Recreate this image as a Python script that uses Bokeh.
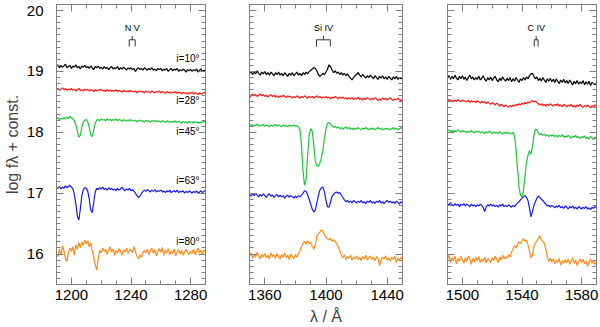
import numpy as np
from bokeh.plotting import figure
from bokeh.layouts import row
from bokeh.models import (Range1d, LinearAxis, FixedTicker, SingleIntervalTicker,
                          CustomLabelingPolicy)
from bokeh.core.properties import value
from bokeh.embed import file_html
from bokeh.resources import INLINE

# ---------------- data ----------------
# wavelength grids (1 Angstrom sampling) for the three windows
wave_nv = np.arange(1190, 1291)
wave_si = np.arange(1350, 1451)
wave_c = np.arange(1490, 1591)

inclinations = ["i=10°", "i=28°", "i=45°", "i=63°", "i=80°"]
incl_label_y = [19.21, 18.52, 18.02, 17.21, 16.21]

ions = ["N V", "Si IV", "C IV"]
doublets = [[1238.8, 1242.8], [1393.8, 1402.8], [1548.2, 1550.8]]

x_windows = [[1190, 1290], [1350, 1450], [1490, 1590]]
x_major_ticks = [[1200, 1240, 1280], [1360, 1400, 1440], [1500, 1540, 1580]]
y_window = [15.5, 20.1]

# N V window
nv_i10 = [19.08, 19.11, 19.06, 19.10, 19.07, 19.09, 19.12, 19.06, 19.08, 19.10,
          19.05, 19.09, 19.07, 19.11, 19.06, 19.08, 19.04, 19.09, 19.07, 19.10,
          19.06, 19.08, 19.05, 19.09, 19.06, 19.03, 19.08, 19.06, 19.09, 19.05,
          19.07, 19.04, 19.08, 19.05, 19.07, 19.03, 19.06, 19.08, 19.04, 19.06,
          19.05, 19.08, 19.03, 19.06, 19.04, 19.07, 19.05, 19.02, 19.06, 19.04,
          19.06, 19.03, 19.05, 19.00, 19.04, 19.06, 19.03, 19.05, 19.02, 19.06,
          19.04, 19.02, 19.05, 19.03, 19.06, 19.02, 19.04, 19.01, 19.05, 19.03,
          19.05, 19.01, 19.04, 19.02, 19.05, 19.00, 19.03, 19.05, 19.01, 19.04,
          19.02, 19.05, 19.00, 19.03, 19.01, 19.04, 19.02, 18.99, 19.03, 19.01,
          19.04, 19.00, 19.03, 19.01, 19.04, 18.99, 19.02, 19.04, 19.00, 19.02, 19.01]
nv_i28 = [18.70, 18.72, 18.69, 18.71, 18.73, 18.70, 18.72, 18.69, 18.71, 18.70,
          18.72, 18.69, 18.71, 18.68, 18.70, 18.72, 18.69, 18.70, 18.68, 18.71,
          18.69, 18.71, 18.68, 18.70, 18.69, 18.67, 18.70, 18.68, 18.70, 18.69,
          18.71, 18.68, 18.69, 18.67, 18.70, 18.68, 18.69, 18.67, 18.69, 18.68,
          18.70, 18.67, 18.69, 18.68, 18.66, 18.69, 18.67, 18.68, 18.66, 18.69,
          18.67, 18.68, 18.66, 18.68, 18.65, 18.67, 18.68, 18.66, 18.67, 18.65,
          18.68, 18.66, 18.67, 18.65, 18.68, 18.66, 18.65, 18.67, 18.66, 18.68,
          18.65, 18.67, 18.66, 18.64, 18.67, 18.65, 18.66, 18.64, 18.66, 18.65,
          18.67, 18.64, 18.66, 18.65, 18.63, 18.66, 18.64, 18.65, 18.63, 18.65,
          18.64, 18.66, 18.63, 18.65, 18.64, 18.62, 18.65, 18.63, 18.64, 18.66, 18.64]
nv_i45 = [18.22, 18.24, 18.21, 18.23, 18.22, 18.24, 18.22, 18.25, 18.23, 18.26,
          18.24, 18.22, 18.19, 18.12, 18.02, 17.92, 17.95, 18.08, 18.17, 18.20,
          18.21, 18.17, 18.08, 17.96, 17.93, 18.04, 18.15, 18.20, 18.21, 18.19,
          18.22, 18.20, 18.21, 18.19, 18.22, 18.20, 18.21, 18.19, 18.21, 18.20,
          18.22, 18.19, 18.21, 18.20, 18.18, 18.21, 18.19, 18.20, 18.18, 18.21,
          18.19, 18.20, 18.18, 18.20, 18.17, 18.19, 18.20, 18.18, 18.19, 18.17,
          18.20, 18.18, 18.19, 18.17, 18.19, 18.18, 18.20, 18.17, 18.19, 18.18,
          18.17, 18.19, 18.18, 18.16, 18.19, 18.17, 18.18, 18.16, 18.18, 18.17,
          18.19, 18.16, 18.18, 18.17, 18.15, 18.18, 18.16, 18.17, 18.15, 18.18,
          18.16, 18.17, 18.15, 18.18, 18.16, 18.17, 18.15, 18.17, 18.16, 18.18, 18.17]
nv_i63 = [17.10, 17.08, 17.11, 17.07, 17.10, 17.08, 17.12, 17.09, 17.11, 17.13,
          17.10, 17.07, 16.98, 16.82, 16.62, 16.56, 16.74, 16.96, 17.06, 17.09,
          17.08, 17.03, 16.90, 16.72, 16.68, 16.85, 17.02, 17.08, 17.06, 17.09,
          17.07, 17.10, 17.06, 17.08, 17.05, 17.09, 17.06, 17.08, 17.05, 17.07,
          17.04, 17.08, 17.05, 17.07, 17.10, 17.06, 17.04, 17.07, 17.05, 17.08,
          17.04, 17.06, 17.03, 17.00, 16.96, 16.93, 16.95, 16.99, 17.03, 17.05,
          17.03, 17.06, 17.04, 17.02, 17.05, 17.03, 17.06, 17.02, 17.04, 17.03,
          17.05, 17.02, 17.04, 17.01, 17.04, 17.02, 17.05, 17.01, 17.03, 17.04,
          17.02, 17.05, 17.01, 17.03, 17.02, 17.04, 17.00, 17.03, 17.01, 17.04,
          17.02, 17.00, 17.03, 17.01, 17.04, 17.00, 17.02, 17.04, 17.01, 17.03, 17.05]
nv_i80 = [16.00, 15.96, 16.08, 15.98, 16.14, 16.05, 15.92, 15.88, 16.02, 16.10,
          16.04, 16.12, 15.98, 16.15, 16.08, 16.19, 16.10, 16.20, 16.14, 16.23,
          16.17, 16.22, 16.12, 16.18, 16.05, 15.95, 15.82, 15.74, 15.92, 16.06,
          16.02, 16.10, 16.04, 16.08, 15.99, 16.06, 16.12, 16.03, 16.08, 15.98,
          16.06, 16.02, 16.09, 16.04, 15.98, 16.07, 16.03, 16.10, 16.01, 16.06,
          16.08, 16.02, 16.12, 16.04, 15.96, 15.92, 15.99, 15.94, 16.03, 16.06,
          16.02, 16.08, 15.99, 16.05, 16.10, 16.01, 16.07, 15.97, 16.04, 16.09,
          16.03, 16.11, 15.98, 16.06, 16.02, 16.09, 15.99, 16.05, 16.01, 16.08,
          15.97, 16.04, 16.07, 16.00, 16.06, 15.98, 16.03, 16.08, 16.02, 15.99,
          16.05, 16.01, 16.08, 15.99, 16.04, 16.10, 16.02, 16.06, 16.00, 16.07, 16.03]

# Si IV window
si_i10 = [18.97, 19.00, 18.95, 18.99, 18.96, 19.01, 18.97, 18.94, 18.99, 18.96,
          19.00, 18.95, 18.98, 18.94, 18.99, 18.96, 18.93, 18.98, 18.95, 18.99,
          18.94, 18.97, 18.93, 18.98, 18.95, 18.92, 18.97, 18.94, 18.98, 18.93,
          18.96, 18.99, 18.94, 18.97, 18.93, 18.98, 18.95, 18.99, 18.96, 19.00,
          19.02, 19.04, 19.06, 19.05, 19.01, 18.95, 18.92, 18.94, 18.97, 18.95,
          18.99, 19.04, 19.11, 19.08, 19.02, 18.98, 19.01, 18.97, 18.99, 18.95,
          18.98, 18.94, 18.97, 18.93, 18.96, 18.92, 18.89, 18.86, 18.90, 18.93,
          18.95, 18.98, 18.94, 18.91, 18.95, 18.92, 18.89, 18.93, 18.90, 18.94,
          18.91, 18.88, 18.93, 18.90, 18.87, 18.92, 18.89, 18.93, 18.88, 18.91,
          18.87, 18.92, 18.89, 18.86, 18.91, 18.88, 18.92, 18.87, 18.90, 18.88, 18.91]
si_i28 = [18.56, 18.61, 18.63, 18.60, 18.62, 18.59, 18.61, 18.63, 18.60, 18.62,
          18.59, 18.61, 18.58, 18.60, 18.62, 18.59, 18.61, 18.58, 18.60, 18.57,
          18.60, 18.58, 18.61, 18.59, 18.57, 18.60, 18.58, 18.59, 18.56, 18.59,
          18.57, 18.60, 18.58, 18.56, 18.59, 18.57, 18.60, 18.58, 18.56, 18.59,
          18.57, 18.59, 18.56, 18.58, 18.60, 18.57, 18.59, 18.56, 18.58, 18.57,
          18.59, 18.56, 18.58, 18.55, 18.58, 18.56, 18.59, 18.57, 18.55, 18.58,
          18.56, 18.58, 18.55, 18.57, 18.54, 18.57, 18.55, 18.57, 18.54, 18.56,
          18.55, 18.58, 18.54, 18.56, 18.53, 18.56, 18.54, 18.57, 18.55, 18.53,
          18.56, 18.54, 18.57, 18.55, 18.52, 18.55, 18.53, 18.56, 18.54, 18.56,
          18.53, 18.55, 18.57, 18.54, 18.52, 18.55, 18.53, 18.56, 18.54, 18.52, 18.55]
si_i45 = [18.11, 18.13, 18.10, 18.12, 18.11, 18.14, 18.10, 18.12, 18.11, 18.13,
          18.10, 18.12, 18.11, 18.09, 18.12, 18.10, 18.11, 18.13, 18.10, 18.12,
          18.11, 18.09, 18.12, 18.10, 18.11, 18.09, 18.12, 18.10, 18.11, 18.12,
          18.10, 18.11, 18.09, 18.04, 17.78, 17.35, 17.13, 17.22, 17.62, 17.95,
          18.06, 18.02, 17.80, 17.52, 17.45, 17.44, 17.50, 17.58, 17.72, 17.90,
          18.06, 18.15, 18.16, 18.13, 18.11, 18.08, 18.10, 18.07, 18.09, 18.06,
          18.08, 18.05, 18.07, 18.09, 18.06, 18.08, 18.05, 18.07, 18.04, 18.07,
          18.05, 18.08, 18.06, 18.04, 18.07, 18.05, 18.08, 18.06, 18.04, 18.07,
          18.05, 18.07, 18.04, 18.06, 18.08, 18.05, 18.07, 18.04, 18.06, 18.05,
          18.07, 18.04, 18.06, 18.05, 18.08, 18.05, 18.07, 18.04, 18.06, 18.08, 18.05]
si_i63 = [16.98, 16.95, 16.99, 16.96, 17.00, 16.97, 16.94, 16.98, 16.95, 16.99,
          16.96, 16.93, 16.97, 16.99, 16.95, 16.97, 16.93, 16.96, 16.98, 16.94,
          16.97, 16.94, 16.96, 16.92, 16.95, 16.97, 16.93, 16.96, 16.94, 16.92,
          16.95, 16.93, 16.96, 16.94, 16.97, 17.00, 17.04, 17.03, 16.97, 16.90,
          16.82, 16.74, 16.69, 16.72, 16.84, 16.96, 17.05, 17.09, 17.10, 17.02,
          16.88, 16.78, 16.77, 16.86, 16.95, 16.98, 17.01, 17.02, 17.00, 17.01,
          16.97, 16.93, 16.89, 16.86, 16.88, 16.85, 16.87, 16.84, 16.88, 16.86,
          16.84, 16.87, 16.85, 16.88, 16.84, 16.86, 16.83, 16.87, 16.85, 16.88,
          16.84, 16.86, 16.83, 16.87, 16.85, 16.88, 16.84, 16.86, 16.83, 16.86,
          16.88, 16.85, 16.87, 16.84, 16.86, 16.83, 16.87, 16.85, 16.82, 16.86, 16.84]
si_i80 = [15.97, 16.02, 15.93, 15.99, 15.95, 16.03, 15.96, 15.92, 16.00, 15.95,
          16.01, 15.94, 15.98, 15.92, 16.02, 15.96, 15.99, 15.93, 16.01, 15.96,
          15.92, 15.99, 15.95, 16.02, 15.94, 15.98, 15.91, 16.00, 15.96, 15.93,
          15.99, 15.95, 16.01, 16.06, 16.12, 16.18, 16.21, 16.16, 16.22, 16.17,
          16.19, 16.13, 16.08, 16.15, 16.30, 16.33, 16.36, 16.40, 16.38, 16.31,
          16.28, 16.25, 16.23, 16.26, 16.21, 16.24, 16.20, 16.17, 16.12, 16.06,
          15.98, 15.94, 15.99, 15.91, 15.96, 15.93, 15.98, 15.90, 15.95, 15.92,
          15.97, 15.91, 15.95, 15.89, 15.96, 15.92, 15.98, 15.90, 15.94, 15.97,
          15.91, 15.95, 15.89, 15.96, 15.92, 15.81, 15.90, 15.95, 15.92, 15.97,
          15.90, 15.94, 15.88, 15.95, 15.91, 15.97, 15.86, 15.93, 15.90, 15.95, 15.92]

# C IV window
c_i10 = [18.90, 18.93, 18.87, 18.92, 18.88, 18.94, 18.89, 18.86, 18.92, 18.88,
         18.93, 18.87, 18.91, 18.85, 18.90, 18.94, 18.88, 18.91, 18.86, 18.90,
         18.87, 18.92, 18.86, 18.89, 18.93, 18.87, 18.84, 18.90, 18.86, 18.91,
         18.85, 18.89, 18.92, 18.86, 18.83, 18.89, 18.85, 18.91, 18.87, 18.84,
         18.89, 18.85, 18.90, 18.83, 18.88, 18.84, 18.90, 18.86, 18.82, 18.88,
         18.85, 18.90, 18.86, 18.91, 18.88, 18.93, 18.96, 18.97, 18.92, 18.88,
         18.91, 18.85, 18.89, 18.84, 18.90, 18.86, 18.82, 18.88, 18.84, 18.89,
         18.83, 18.87, 18.82, 18.88, 18.84, 18.80, 18.86, 18.82, 18.87, 18.81,
         18.85, 18.80, 18.86, 18.82, 18.78, 18.84, 18.80, 18.85, 18.79, 18.83,
         18.80, 18.85, 18.78, 18.83, 18.79, 18.84, 18.77, 18.82, 18.80, 18.78, 18.82]
c_i28 = [18.52, 18.54, 18.51, 18.53, 18.50, 18.53, 18.51, 18.54, 18.52, 18.50,
         18.53, 18.51, 18.52, 18.50, 18.53, 18.49, 18.52, 18.50, 18.51, 18.49,
         18.52, 18.50, 18.48, 18.51, 18.49, 18.50, 18.47, 18.50, 18.48, 18.46,
         18.49, 18.47, 18.45, 18.48, 18.46, 18.43, 18.46, 18.44, 18.42, 18.45,
         18.43, 18.41, 18.44, 18.42, 18.45, 18.43, 18.46, 18.44, 18.47, 18.45,
         18.48, 18.46, 18.49, 18.47, 18.50, 18.48, 18.51, 18.52, 18.50, 18.51,
         18.49, 18.47, 18.45, 18.47, 18.44, 18.46, 18.43, 18.46, 18.44, 18.47,
         18.45, 18.43, 18.46, 18.44, 18.47, 18.43, 18.45, 18.42, 18.46, 18.44,
         18.42, 18.45, 18.43, 18.46, 18.42, 18.44, 18.41, 18.45, 18.43, 18.46,
         18.43, 18.41, 18.44, 18.42, 18.45, 18.43, 18.40, 18.44, 18.42, 18.45, 18.43]
c_i45 = [18.02, 18.04, 18.01, 18.03, 18.00, 18.03, 18.01, 18.04, 18.02, 18.00,
         18.03, 18.01, 18.02, 17.99, 18.02, 18.00, 18.03, 18.01, 17.99, 18.02,
         18.00, 18.02, 17.99, 18.01, 18.00, 17.98, 18.01, 17.99, 18.02, 18.00,
         17.98, 18.01, 17.99, 18.00, 17.98, 18.01, 17.99, 17.97, 18.00, 17.98,
         18.00, 17.98, 17.99, 17.97, 18.00, 17.94, 17.72, 17.40, 17.10, 16.96,
         16.94, 17.05, 17.28, 17.50, 17.62, 17.70, 17.64, 17.76, 17.95, 18.05,
         18.04, 17.99, 17.96, 17.98, 17.95, 17.97, 17.94, 17.96, 17.93, 17.96,
         17.94, 17.96, 17.93, 17.95, 17.92, 17.95, 17.93, 17.96, 17.92, 17.94,
         17.92, 17.95, 17.93, 17.90, 17.94, 17.92, 17.95, 17.91, 17.93, 17.90,
         17.93, 17.91, 17.94, 17.90, 17.92, 17.89, 17.93, 17.91, 17.88, 17.92, 17.90]
c_i63 = [16.83, 16.80, 16.84, 16.81, 16.79, 16.83, 16.80, 16.82, 16.78, 16.82,
         16.80, 16.83, 16.79, 16.82, 16.80, 16.78, 16.82, 16.79, 16.81, 16.78,
         16.81, 16.79, 16.82, 16.80, 16.76, 16.70, 16.78, 16.81, 16.79, 16.82,
         16.79, 16.81, 16.78, 16.80, 16.77, 16.81, 16.79, 16.82, 16.78, 16.80,
         16.78, 16.81, 16.79, 16.77, 16.80, 16.78, 16.81, 16.84, 16.86, 16.89,
         16.92, 16.94, 16.96, 16.93, 16.88, 16.76, 16.61, 16.70, 16.80, 16.86,
         16.92, 16.95, 16.93, 16.90, 16.88, 16.85, 16.82, 16.79, 16.80, 16.77,
         16.80, 16.78, 16.76, 16.79, 16.77, 16.80, 16.76, 16.78, 16.75, 16.79,
         16.77, 16.74, 16.78, 16.76, 16.79, 16.75, 16.77, 16.74, 16.78, 16.76,
         16.74, 16.77, 16.75, 16.78, 16.74, 16.76, 16.73, 16.77, 16.75, 16.78, 16.76]
c_i80 = [15.92, 15.98, 15.86, 15.94, 15.89, 15.97, 15.84, 15.93, 15.88, 15.96,
         15.90, 15.85, 15.94, 15.88, 15.97, 15.91, 15.83, 15.93, 15.87, 15.95,
         15.89, 15.96, 15.86, 15.92, 15.88, 15.95, 15.85, 15.93, 15.90, 15.86,
         15.94, 15.89, 15.97, 15.91, 15.86, 15.95, 15.90, 15.98, 15.92, 15.96,
         15.93, 15.99, 15.95, 16.04, 16.08, 16.14, 16.10, 16.16, 16.20, 16.17,
         16.22, 16.25, 16.21, 16.23, 16.15, 16.05, 15.94, 15.98, 16.12, 16.18,
         16.22, 16.26, 16.30, 16.24, 16.20, 16.17, 16.08, 15.95, 15.88, 15.93,
         15.87, 15.92, 15.84, 15.90, 15.86, 15.93, 15.82, 15.89, 15.85, 15.91,
         15.86, 15.92, 15.83, 15.88, 15.94, 15.85, 15.90, 15.81, 15.87, 15.92,
         15.86, 15.91, 15.84, 15.89, 15.80, 15.87, 15.92, 15.85, 15.89, 15.83, 15.88]

# ---------------- styling ----------------
COLORS = ["#000000", "#ff1a1a", "#22c43c", "#1a1ae6", "#ff8c1a"]
FRAME = "#808080"
FONT = "Liberation Sans"

panels = [
    (wave_nv, [nv_i10, nv_i28, nv_i45, nv_i63, nv_i80]),
    (wave_si, [si_i10, si_i28, si_i45, si_i63, si_i80]),
    (wave_c, [c_i10, c_i28, c_i45, c_i63, c_i80]),
]

# (width, min_border_left, min_border_right)
geometry = [(227, 52, 22), (197, 22, 22), (176, 23, 1)]
HEIGHT = 327

HIDE = "for (let i = 0; i < indices.size; i++) { indices.set(i, false) }\nreturn indices"


def style_axis(ax, show_labels, standoff=5):
    ax.axis_line_color = FRAME
    ax.major_tick_line_color = FRAME
    ax.minor_tick_line_color = FRAME
    ax.major_tick_in = 7
    ax.major_tick_out = 0
    ax.minor_tick_in = 4
    ax.minor_tick_out = 0
    ax.major_label_text_font = FONT
    ax.major_label_text_color = "black"
    if show_labels:
        ax.major_label_text_font_size = "15px"
        ax.major_label_standoff = standoff
    else:
        ax.major_label_text_font_size = "1px"
        ax.major_label_standoff = 0
        ax.major_label_policy = CustomLabelingPolicy(code=HIDE)


figs = []
for k, ((wave, series), (w, bl, br)) in enumerate(zip(panels, geometry)):
    lo, hi = x_windows[k]
    p = figure(width=w, height=HEIGHT, output_backend="svg", toolbar_location=None,
               x_range=Range1d(lo, hi), y_range=Range1d(*y_window),
               min_border_left=bl, min_border_right=br,
               min_border_top=2, min_border_bottom=42)
    p.grid.visible = False
    p.outline_line_color = FRAME
    p.background_fill_color = "white"
    p.border_fill_color = "white"

    xt = FixedTicker(ticks=x_major_ticks[k], minor_ticks=list(range(lo, hi + 1, 10)))
    yt = SingleIntervalTicker(interval=1, num_minor_ticks=10)

    bottom = p.xaxis[0]
    left = p.yaxis[0]
    bottom.ticker = xt
    left.ticker = yt
    style_axis(bottom, True, standoff=5)
    style_axis(left, k == 0, standoff=13)

    top = LinearAxis(ticker=xt)
    style_axis(top, False)
    p.add_layout(top, "above")
    right = LinearAxis(ticker=yt)
    style_axis(right, False)
    p.add_layout(right, "right")

    for ys, c in zip(series, COLORS):
        p.line(wave, ys, line_color=c, line_width=1.2)

    # doublet marker
    l1, l2 = doublets[k]
    mid = 0.5 * (l1 + l2)
    p.multi_line(xs=[[l1, l1, l2, l2], [mid, mid]],
                 ys=[[19.41, 19.52, 19.52, 19.41], [19.52, 19.585]],
                 line_color="#333333", line_width=1)
    p.text(x=[mid], y=[19.71], text=[ions[k]], text_font=value(FONT),
           text_font_size="9px", text_align="center", text_baseline="middle",
           text_color="black")

    if k == 0:
        left.axis_label = "log fλ + const."
        left.axis_label_text_font = FONT
        left.axis_label_text_font_size = "16px"
        left.axis_label_text_font_style = "normal"
        left.axis_label_standoff = 3
        p.text(x=[hi - 4] * len(inclinations), y=incl_label_y, text=inclinations,
               text_font=value(FONT), text_font_size="10px", text_align="right",
               text_baseline="middle", text_color="black")
    if k == 1:
        bottom.axis_label = "λ / Å"
        bottom.axis_label_text_font = FONT
        bottom.axis_label_text_font_size = "16px"
        bottom.axis_label_text_font_style = "normal"
        bottom.axis_label_standoff = 5
    figs.append(p)

layout = row(*figs, spacing=0)
open("out.html", "w").write(file_html(layout, INLINE))
